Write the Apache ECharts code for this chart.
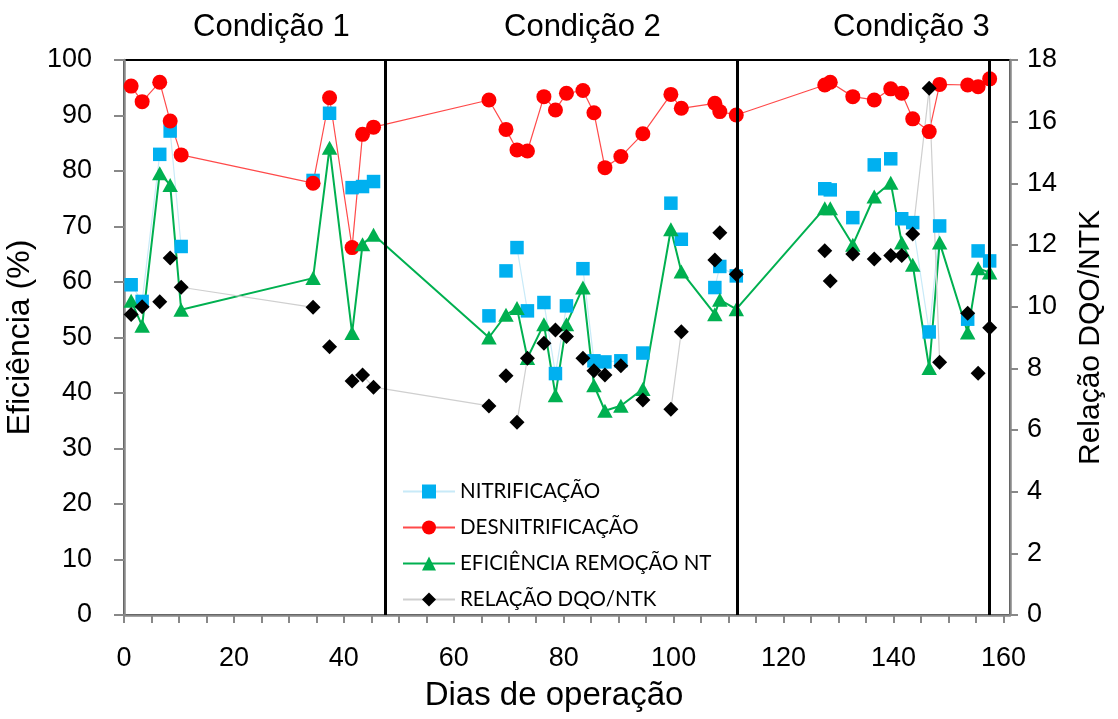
<!DOCTYPE html>
<html>
<head>
<meta charset="utf-8">
<script src="https://cdn.jsdelivr.net/npm/echarts@6/dist/echarts.min.js"></script>
<style>
  html, body { margin: 0; padding: 0; background: #fff; }
  #chart { width: 1118px; height: 719px; }
</style>
</head>
<body>
<div id="chart"></div>
<script>
// ---- data ----
const dias = [1.3, 3.3, 6.5, 8.4, 10.4, 34.4, 37.4, 41.5, 43.4, 45.4,
  66.4, 69.5, 71.5, 73.4, 76.4, 78.5, 80.5, 83.5, 85.5, 87.5, 90.4, 94.4, 99.5, 101.4, 107.5, 108.4, 111.4,
  127.5, 128.5, 132.6, 136.5, 139.5, 141.5, 143.5, 146.5, 148.4, 153.5, 155.4, 157.5];

const nitrificacao = [59.5, 56.5, 83.0, 87.2, 66.4, 78.3, 90.4, 77.0, 77.2, 78.1,
  53.9, 62.0, 66.2, 54.8, 56.3, 43.5, 55.7, 62.4, 45.8, 45.6, 45.8, 47.2, 74.2, 67.7, 59.0, 62.8, 61.1,
  76.8, 76.6, 71.6, 81.1, 82.2, 71.4, 70.7, 51.0, 70.1, 53.3, 65.6, 63.8];

const desnitrificacao = [95.3, 92.5, 96.0, 89.0, 82.9, 77.8, 93.2, 66.2, 86.6, 87.9,
  92.8, 87.5, 83.8, 83.6, 93.4, 91.0, 94.0, 94.5, 90.5, 80.6, 82.6, 86.7, 93.8, 91.3, 92.2, 90.7, 90.1,
  95.5, 96.0, 93.4, 92.8, 94.8, 94.0, 89.4, 87.1, 95.6, 95.5, 95.2, 96.6];

const eficienciaNT = [56.6, 52.1, 79.6, 77.5, 55.0, 60.7, 84.2, 50.8, 66.8, 68.5,
  50.0, 54.1, 55.3, 46.3, 52.4, 39.6, 52.4, 59.0, 41.4, 36.8, 37.7, 40.7, 69.5, 61.9, 54.2, 56.8, 55.1,
  73.3, 73.3, 66.7, 75.4, 77.9, 67.1, 63.1, 44.5, 67.1, 50.9, 62.5, 61.7];

const relacaoDQO = [9.75, 10.0, 10.16, 11.58, 10.63, 9.98, 8.70, 7.59, 7.78, 7.39,
  6.78, 7.76, 6.25, 8.33, 8.81, 9.24, 9.03, 8.33, 7.92, 7.78, 8.08, 6.97, 6.67, 9.19, 11.51, 12.40, 11.05,
  11.81, 10.83, 11.71, 11.55, 11.66, 11.66, 12.36, 17.08, 8.20, 9.79, 7.84, 9.32];

// segments (point i -> i+1) whose connecting line is visible in the reference
const ligacoesNit = [0, 1, 3, 7, 8, 12, 14, 15, 17, 18, 19, 24, 25, 27, 33, 34, 37];
const ligacoesDqo = [4, 7, 8, 9, 12, 22, 33, 34];

const divisoes = [47.5, 111.5, 157.5];
const condicoes = ['Condição 1', 'Condição 2', 'Condição 3'];
const nomesSeries = ['NITRIFICAÇÃO', 'DESNITRIFICAÇÃO', 'EFICIÊNCIA REMOÇÃO NT', 'RELAÇÃO DQO/NTK'];

function montar(valores, ligacoes) {
  const out = [];
  valores.forEach((v, i) => {
    out.push([dias[i], v]);
    if (ligacoes && i < valores.length - 1 && ligacoes.indexOf(i) < 0) {
      out.push([(dias[i] + dias[i + 1]) / 2, '-']);
    }
  });
  return out;
}

const FONT = 'Liberation Sans, Arial, sans-serif';
const chart = echarts.init(document.getElementById('chart'), null, { renderer: 'canvas' });

const option = {
  animation: false,
  backgroundColor: '#ffffff',
  grid: {
    left: 124, top: 60, width: 886, height: 555,
    outerBoundsMode: 'none', containLabel: false,
    show: true, borderColor: '#000', borderWidth: 2, backgroundColor: 'transparent'
  },
  legend: {
    orient: 'vertical',
    left: 397, top: 476,
    itemWidth: 52, itemHeight: 17.5, itemGap: 15,
    data: nomesSeries,
    textStyle: { fontFamily: 'Lato, Liberation Sans, sans-serif', fontSize: 20.5, color: '#000', lineHeight: 20 }
  },
  graphic: condicoes.map((t, i) => ({
    type: 'text',
    left: [193, 504, 833][i], top: 12,
    style: { text: t, font: '31px ' + FONT, fill: '#000' }
  })),
  xAxis: {
    type: 'value', min: 0, max: 161.2, interval: 5,
    name: 'Dias de operação', nameLocation: 'middle', nameGap: 64,
    nameTextStyle: { fontFamily: FONT, fontSize: 33, color: '#000', padding: [0, 26, 0, 0] },
    axisLine: { show: true, onZero: false, lineStyle: { color: '#888', width: 2.5 } },
    axisTick: { show: true, length: 8, lineStyle: { color: '#888', width: 2 } },
    axisLabel: {
      margin: 30, fontFamily: FONT, fontSize: 27, color: '#000',
      formatter: v => (Math.abs(v % 20) < 1e-6 ? String(v) : ''),
      showMaxLabel: false
    },
    splitLine: { show: false }
  },
  yAxis: [
    {
      type: 'value', min: 0, max: 100, interval: 10,
      name: 'Eficiência (%)', nameLocation: 'middle', nameGap: 79, nameRotate: 90,
      nameTextStyle: { fontFamily: FONT, fontSize: 32, color: '#000' },
      axisLine: { show: true, lineStyle: { color: '#888', width: 2.5 } },
      axisTick: { show: true, length: 10, lineStyle: { color: '#888', width: 2 } },
      axisLabel: { margin: 32, fontFamily: FONT, fontSize: 27, color: '#000' },
      splitLine: { show: false }
    },
    {
      type: 'value', min: 0, max: 18, interval: 2, position: 'right',
      name: 'Relação DQO/NTK', nameLocation: 'middle', nameGap: 66, nameRotate: 90,
      nameTextStyle: { fontFamily: FONT, fontSize: 30, color: '#000' },
      axisLine: { show: true, lineStyle: { color: '#888', width: 2.5 } },
      axisTick: { show: true, length: 8, lineStyle: { color: '#888', width: 2 } },
      axisLabel: { margin: 17, fontFamily: FONT, fontSize: 27, color: '#000' },
      splitLine: { show: false }
    }
  ],
  series: [
    {
      name: nomesSeries[0], type: 'line', yAxisIndex: 0,
      data: montar(nitrificacao, ligacoesNit), connectNulls: false,
      symbol: 'rect', symbolSize: 13.5,
      itemStyle: { color: '#00b0f0', borderWidth: 0 },
      lineStyle: { color: '#c8eaf8', width: 1.2 },
      markLine: {
        silent: true, symbol: 'none', animation: false,
        lineStyle: { color: '#000', width: 3, type: 'solid' },
        label: { show: false },
        data: divisoes.map(d => ({ xAxis: d }))
      }
    },
    {
      name: nomesSeries[1], type: 'line', yAxisIndex: 0,
      data: montar(desnitrificacao, null),
      symbol: 'circle', symbolSize: 15,
      itemStyle: { color: '#ff0000', borderWidth: 0 },
      lineStyle: { color: '#ff4a4a', width: 1.2 }
    },
    {
      name: nomesSeries[2], type: 'line', yAxisIndex: 0,
      data: montar(eficienciaNT, null),
      symbol: 'triangle', symbolSize: [15.5, 14],
      itemStyle: { color: '#00b050', borderWidth: 0 },
      lineStyle: { color: '#00b050', width: 2 }
    },
    {
      name: nomesSeries[3], type: 'line', yAxisIndex: 1,
      data: montar(relacaoDQO, ligacoesDqo), connectNulls: false,
      symbol: 'diamond', symbolSize: [15, 15],
      itemStyle: { color: '#000000', borderWidth: 0 },
      lineStyle: { color: '#cfcfcf', width: 1.2 }
    }
  ]
};
chart.setOption(option);
</script>
</body>
</html>
